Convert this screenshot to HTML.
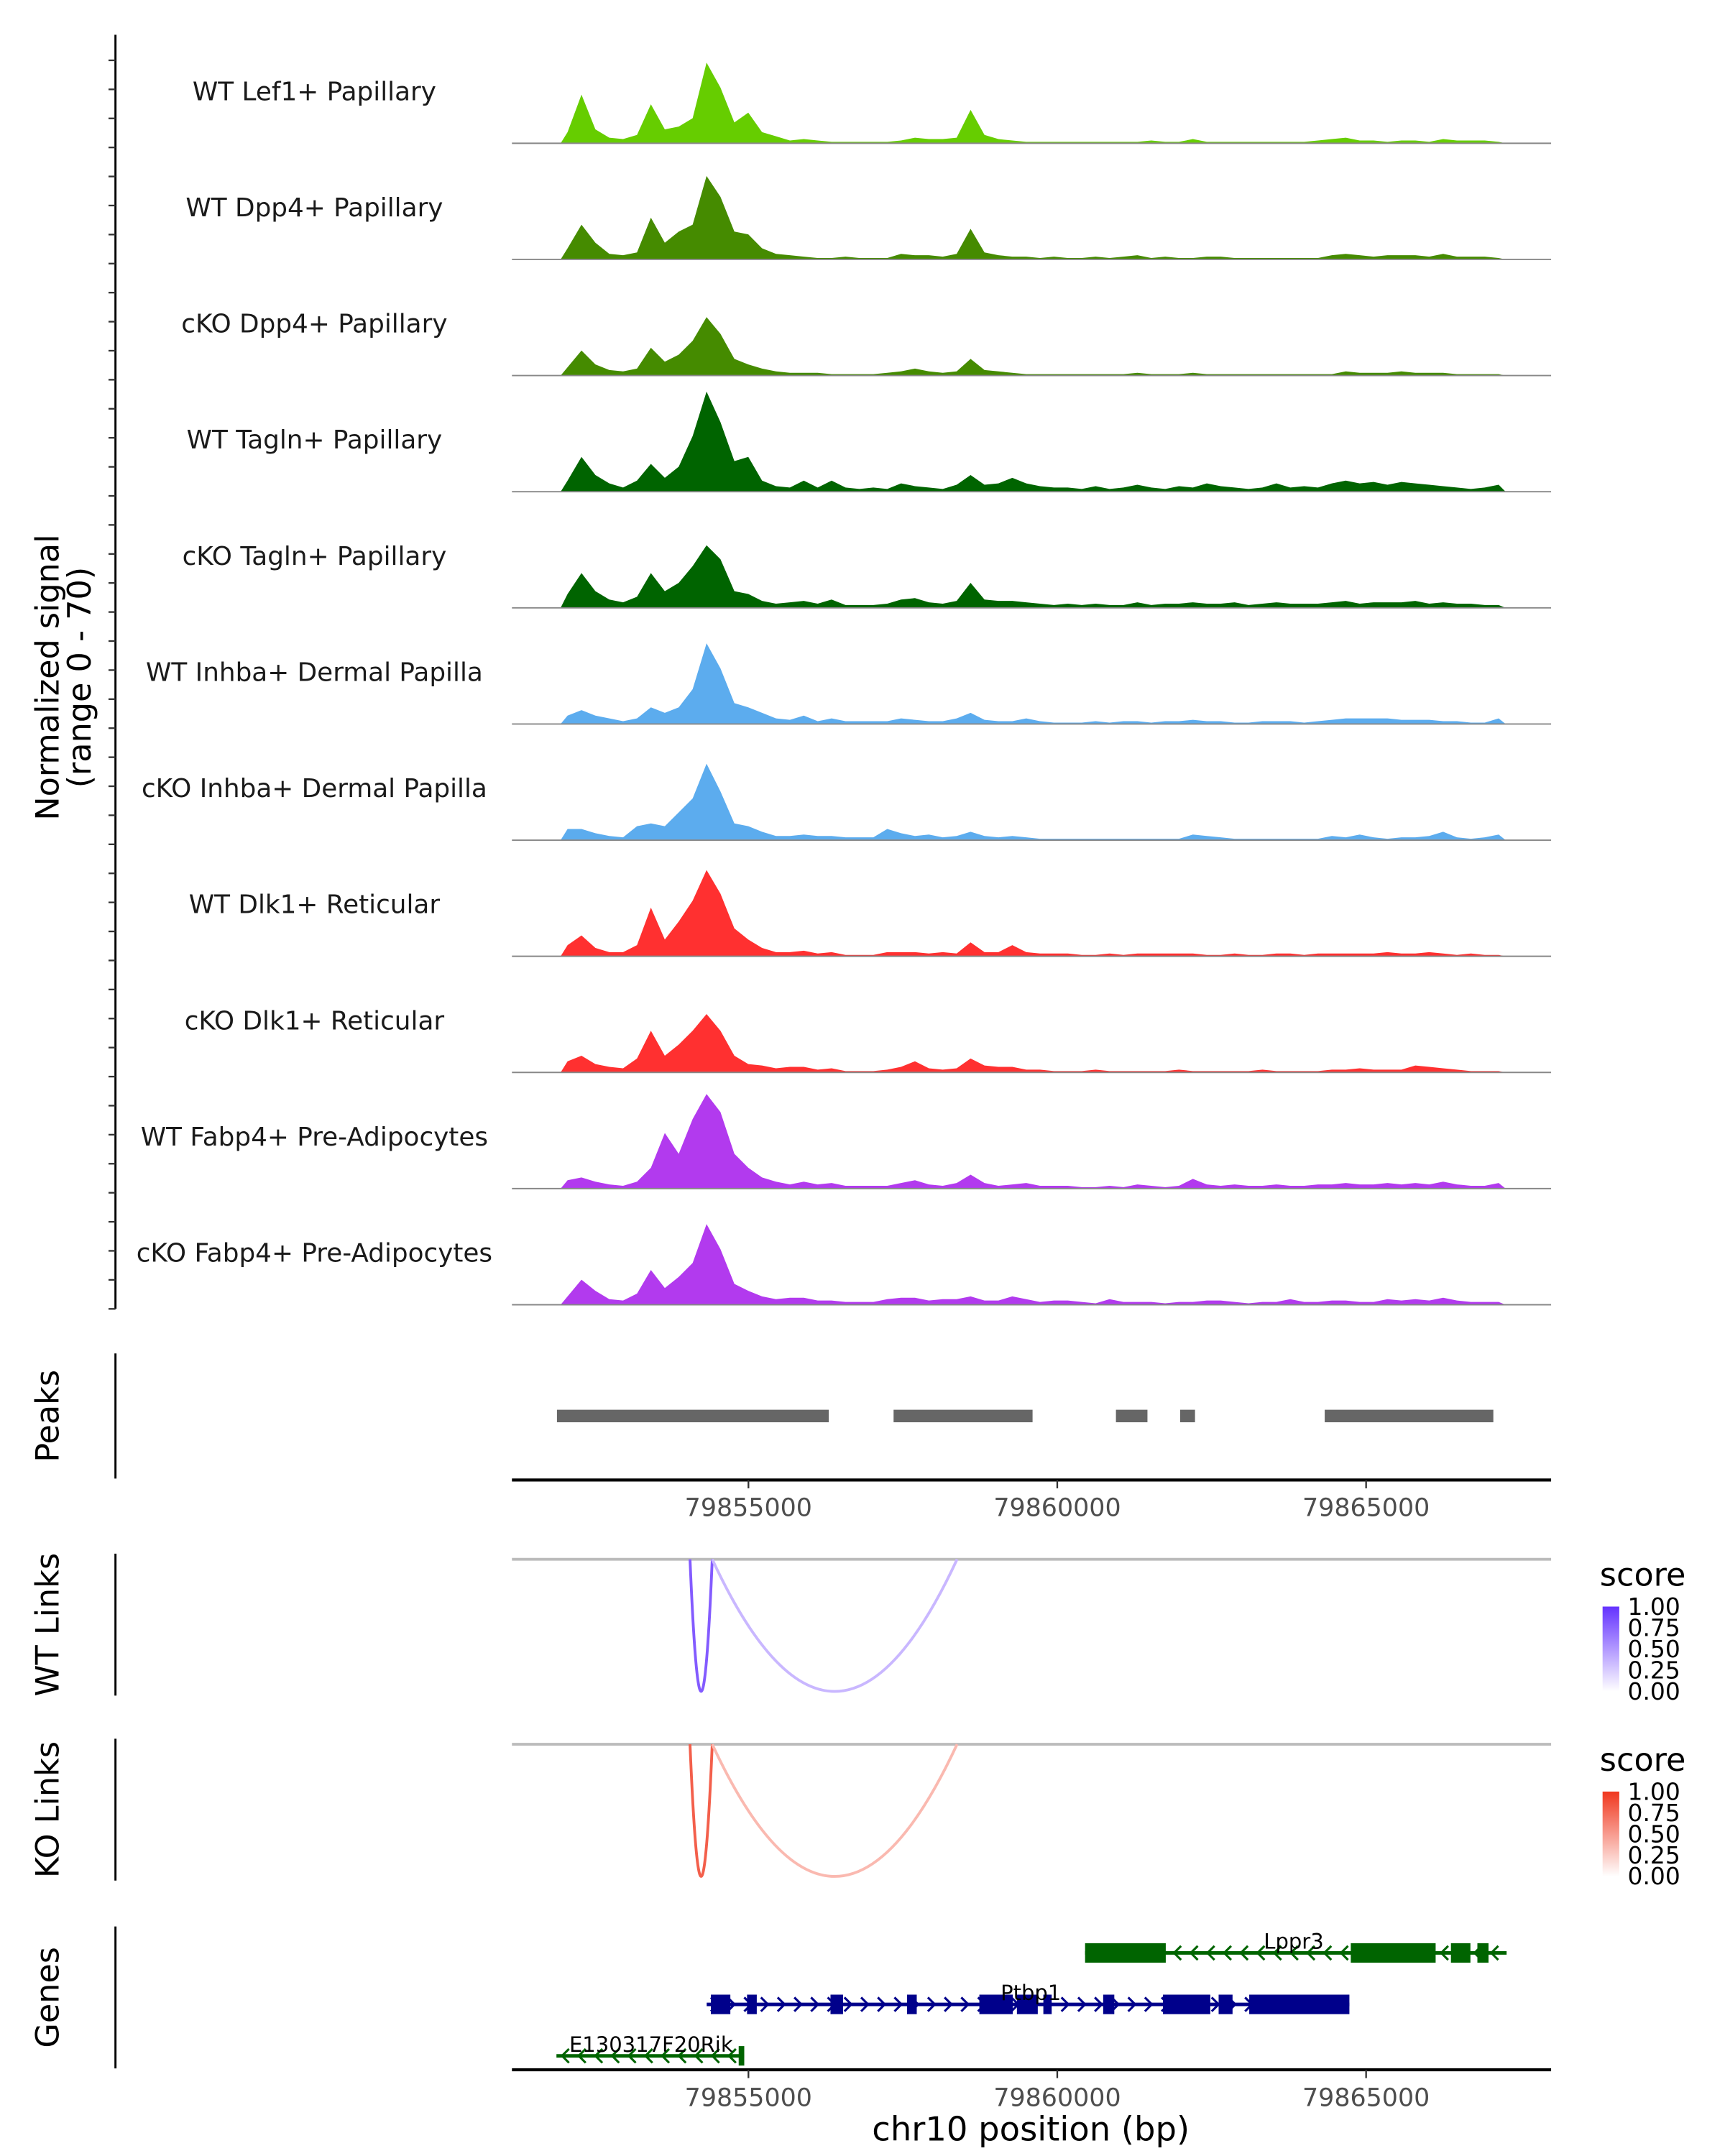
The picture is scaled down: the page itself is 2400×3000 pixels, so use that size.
<!DOCTYPE html>
<html><head><meta charset="utf-8"><style>
html,body{margin:0;padding:0;background:#fff;}
svg{display:block;font-family:"DejaVu Sans","Liberation Sans",sans-serif;}
</style></head><body>
<svg id="chart" width="2400" height="3000" viewBox="0 0 1240 1550" preserveAspectRatio="none" xmlns="http://www.w3.org/2000/svg">
<g id="tracks"></g>
<g id="peaks"></g>
<g id="links"></g>
<g id="genes"></g>
</svg>
<script>
const trackNames = ["WT Lef1+ Papillary","WT Dpp4+ Papillary","cKO Dpp4+ Papillary","WT Tagln+ Papillary","cKO Tagln+ Papillary","WT Inhba+ Dermal Papilla","cKO Inhba+ Dermal Papilla","WT Dlk1+ Reticular","cKO Dlk1+ Reticular","WT Fabp4+ Pre-Adipocytes","cKO Fabp4+ Pre-Adipocytes"];
const trackColors = ["#66CD00","#458B00","#458B00","#006400","#006400","#5CACEE","#5CACEE","#FF3030","#FF3030","#B23AEE","#B23AEE"];
const binStartBp = 79851959;
const binSizeBp = 225;
const sigLef1WT = [8,35,10,4,3,6,28,10,12,18,58,40,15,22,8,5,2,3,2,1,1,1,1,1,2,4,3,3,4,24,6,3,2,1,1,1,1,1,1,1,1,1,2,1,1,3,1,1,1,1,1,1,1,1,2,3,4,2,2,1,2,2,1,3,2,2,2,1];
const sigDpp4WT = [8,25,12,4,3,5,30,12,20,25,60,45,20,18,8,4,3,2,1,1,2,1,1,1,4,3,3,2,4,22,5,3,2,2,1,2,1,1,2,1,2,3,1,2,1,1,2,2,1,1,1,1,1,1,1,3,4,3,2,3,3,3,2,4,2,2,2,1];
const sigDpp4KO = [6,18,8,4,3,5,20,10,15,25,42,30,12,8,5,3,2,2,2,1,1,1,1,2,3,5,3,2,3,12,4,3,2,1,1,1,1,1,1,1,1,2,1,1,1,2,1,1,1,1,1,1,1,1,1,1,3,2,2,2,3,2,2,2,1,1,1,1];
const sigTaglnWT = [8,25,12,6,3,8,20,10,18,40,72,50,22,25,8,4,3,8,3,8,3,2,3,2,6,4,3,2,5,12,5,6,10,6,4,3,3,2,4,2,3,5,3,2,4,3,6,4,3,2,3,6,3,4,3,6,8,6,7,5,7,6,5,4,3,2,3,5];
const sigTaglnKO = [10,25,12,6,4,8,25,12,18,30,45,35,12,10,5,3,4,5,3,6,2,2,2,3,6,7,4,3,5,18,6,5,5,4,3,2,3,2,3,2,2,4,2,3,3,4,3,3,4,2,3,4,3,3,3,4,5,3,4,4,4,5,3,4,3,3,2,2];
const sigInhbaWT = [6,10,6,4,2,4,12,8,12,25,58,40,15,12,8,4,3,6,2,4,2,2,2,2,4,3,2,2,4,8,3,2,2,4,2,1,1,1,2,1,2,2,1,2,2,3,2,2,1,1,2,2,2,1,2,3,4,4,4,4,3,3,3,2,2,1,1,4];
const sigInhbaKO = [8,8,5,3,2,10,12,10,20,30,55,35,12,10,6,3,3,4,3,3,2,2,2,8,5,3,4,2,3,6,3,2,3,2,1,1,1,1,1,1,1,1,1,1,1,4,3,2,1,1,1,1,1,1,1,3,2,4,2,1,2,2,3,6,2,1,2,4];
const sigDlk1WT = [8,15,6,3,3,8,35,12,25,40,62,45,20,12,6,3,3,4,2,3,1,1,1,3,3,3,2,3,2,10,3,3,8,3,2,2,2,1,1,2,1,2,2,2,2,2,1,1,2,1,1,2,2,1,2,2,2,2,2,3,2,2,3,2,1,2,1,1];
const sigDlk1KO = [8,12,6,4,3,10,30,12,20,30,42,30,12,6,5,3,4,4,2,3,1,1,1,2,4,8,3,2,3,10,5,4,4,2,2,1,1,1,2,1,1,1,1,1,2,1,1,1,1,1,2,1,1,1,1,2,2,3,2,2,2,5,4,3,2,1,1,1];
const sigFabp4WT = [6,8,5,3,2,5,15,40,25,50,68,55,25,15,8,5,3,5,3,4,2,2,2,2,4,6,3,2,4,10,4,2,3,4,2,2,2,1,1,2,1,3,2,1,2,7,3,2,3,2,2,3,2,2,3,3,4,3,3,4,3,4,3,5,3,2,2,4];
const sigFabp4KO = [6,18,10,4,3,8,25,12,20,30,58,40,15,10,6,4,5,5,3,3,2,2,2,4,5,5,3,4,4,6,3,3,6,4,2,3,3,2,1,4,2,2,2,1,2,2,3,3,2,1,2,2,4,2,2,3,3,2,2,4,3,4,3,5,3,2,2,2];
const trackSignals = [sigLef1WT,sigDpp4WT,sigDpp4KO,sigTaglnWT,sigTaglnKO,sigInhbaWT,sigInhbaKO,sigDlk1WT,sigDlk1KO,sigFabp4WT,sigFabp4KO];
const xTickValues = [79855000,79860000,79865000];
const xTickLabels = ["79855000","79860000","79865000"];
const peakStarts = [79851900,79857350,79860950,79861990,79864330];
const peakEnds = [79856300,79859600,79861460,79862230,79867060];
const linkStarts = [79854054,79854414];
const linkEnds = [79854414,79858378];
const wtLinkScores = [0.8,0.35];
const koLinkScores = [0.8,0.35];
const legendTicks = ["1.00","0.75","0.50","0.25","0.00"];

const NS="http://www.w3.org/2000/svg";
const X0=368, X1=1115, BP0=79851171, PXBP=0.0444;
function xs(bp){return X0+(bp-BP0)*PXBP;}
function mk(tag,attrs,parent){const e=document.createElementNS(NS,tag);for(const k in attrs)e.setAttribute(k,attrs[k]);parent.appendChild(e);return e;}
function txt(s,attrs,parent){const e=mk('text',attrs,parent);e.textContent=s;return e;}

const gT=document.getElementById('tracks');
const trackH=83.5, firstBase=103;
const ys=v=>v*70/70;
let ax=mk('line',{x1:83,y1:25,x2:83,y2:941,stroke:'#000','stroke-width':1.5},gT);


for(let y=941;y>=30;y-=trackH/4){
  let t=mk('line',{x1:78,y1:y,x2:83,y2:y,stroke:'#333','stroke-width':1.2},gT);
  
  
}
let yt=txt('Normalized signal',{x:0,y:0,'font-size':23,'text-anchor':'middle',transform:'translate(42,487) rotate(-90)',fill:'#000'},gT);


let yt2=txt('(range 0 - 70)',{x:0,y:0,'font-size':23,'text-anchor':'middle',transform:'translate(65,487) rotate(-90)',fill:'#000'},gT);


trackSignals.forEach((sig,k)=>{
  const base=firstBase+k*trackH;
  const g=mk('g',{},gT);
  
  
  let d='M'+xs(binStartBp).toFixed(1)+','+base;
  sig.forEach((v,i)=>{d+=' L'+xs(binStartBp+binSizeBp*(i+0.5)).toFixed(1)+','+(base-ys(v)).toFixed(1);});
  d+=' L'+xs(binStartBp+binSizeBp*sig.length).toFixed(1)+','+base+' Z';
  let p=mk('path',{d:d,fill:trackColors[k]},g);
  
  
  let bl=mk('line',{x1:X0,y1:base,x2:X1,y2:base,stroke:'#888','stroke-width':1},g);
  
  
  let lb=txt(trackNames[k],{x:226,y:base-31,'font-size':18.5,'text-anchor':'middle',fill:'#1a1a1a'},g);
  
  
});

function xAxis(y,parent,name){
  let l=mk('line',{x1:X0,y1:y,x2:X1,y2:y,stroke:'#000','stroke-width':2.2},parent);
  
  
  xTickValues.forEach((v,i)=>{
    let t=mk('line',{x1:xs(v),y1:y,x2:xs(v),y2:y+6,stroke:'#333','stroke-width':1.2},parent);
    
    
    let lt=txt(xTickLabels[i],{x:xs(v),y:y+26,'font-size':18,'text-anchor':'middle',fill:'#4d4d4d'},parent);
    
    
  });
}
function sideAxis(y1,y2,label,parent){
  let l=mk('line',{x1:83,y1:y1,x2:83,y2:y2,stroke:'#000','stroke-width':1.5},parent);
  
  
  let t=txt(label,{x:0,y:0,'font-size':23,'text-anchor':'middle',transform:'translate(42,'+((y1+y2)/2)+') rotate(-90)',fill:'#000'},parent);
  
  
}

const gP=document.getElementById('peaks');
sideAxis(973,1063,'Peaks',gP);
peakStarts.forEach((s,i)=>{
  let r=mk('rect',{x:xs(s),y:1013.5,width:xs(peakEnds[i])-xs(s),height:9,fill:'#666'},gP);
  
  
});
xAxis(1064,gP,'peaks-x-axis');

const gL=document.getElementById('links');
function linksPanel(top,label,scores,hi,gradId){
  sideAxis(top-4,top+98,label,gL);
  let bl=mk('line',{x1:X0,y1:top,x2:X1,y2:top,stroke:'#bbb','stroke-width':2},gL);
  
  
  const depth=95;
  linkStarts.forEach((s,i)=>{
    const a=xs(s),b=xs(linkEnds[i]);
    const sc=scores[i];
    const col='rgb('+Math.round(255+(hi[0]-255)*sc)+','+Math.round(255+(hi[1]-255)*sc)+','+Math.round(255+(hi[2]-255)*sc)+')';
    const c=top+depth*2;
    let p=mk('path',{d:'M'+a+','+top+' Q'+((a+b)/2)+','+c+' '+b+','+top,fill:'none',stroke:col,'stroke-width':2},gL);
    
    
  });
  const defs=mk('defs',{},gL);
  const lg=mk('linearGradient',{id:gradId,x1:0,y1:1,x2:0,y2:0},defs);
  mk('stop',{offset:0,'stop-color':'#fff'},lg);
  mk('stop',{offset:1,'stop-color':'rgb('+hi.join(',')+')'},lg);
  let st=txt('score',{x:1150,y:top+19,'font-size':23,fill:'#000'},gL);
  
  
  let cb=mk('rect',{x:1152,y:top+34,width:12,height:61,fill:'url(#'+gradId+')'},gL);
  
  
  legendTicks.forEach((t,i)=>{
    let e=txt(t,{x:1170,y:top+40+i*15.2,'font-size':17,fill:'#000'},gL);
    
    
  });
}
linksPanel(1121,'WT Links',wtLinkScores,[100,50,255],'gwt');
linksPanel(1254,'KO Links',koLinkScores,[240,55,30],'gko');

const gG=document.getElementById('genes');
sideAxis(1385,1487,'Genes',gG);
const geneNames=["Lppr3","Ptbp1","E130317F20Rik"];
const geneStarts=[79851171+(780-368)/PXBP,79851171+(508-368)/PXBP,79851171+(400-368)/PXBP];
const geneEnds=[79851171+(1083-368)/PXBP,79851171+(970-368)/PXBP,79851171+(535-368)/PXBP];
const geneStrand=[-1,1,-1];
const geneRowY=[1404,1441,1478];
const geneColors=["#006400","#00008B","#006400"];
const geneLabelX=[930,741,468];
const exonsLppr3=[[780,838],[971,1032],[1043,1057],[1062,1070]];
const exonsPtbp1=[[511,525],[537,544],[597,606],[652,659],[704,728],[731,746],[750,756],[793,801],[836,870],[876,886],[898,970]];
const exonsE130=[[531,535]];
const geneExons=[exonsLppr3,exonsPtbp1,exonsE130];
geneNames.forEach((n,i)=>{
  const g=mk('g',{},gG);
  
  
  const y=geneRowY[i],a=xs(geneStarts[i]),b=xs(geneEnds[i]),c=geneColors[i];
  mk('line',{x1:a,y1:y,x2:b,y2:y,stroke:c,'stroke-width':2.5},g);
  for(let x=a+6;x<b-3;x+=12){
    const d=geneStrand[i]>0?('M'+(x-3)+','+(y-5)+' L'+(x+2)+','+y+' L'+(x-3)+','+(y+5)):('M'+(x+3)+','+(y-5)+' L'+(x-2)+','+y+' L'+(x+3)+','+(y+5));
    mk('path',{d:d,fill:'none',stroke:c,'stroke-width':1.6},g);
  }
  geneExons[i].forEach(e=>{
    let r=mk('rect',{x:e[0],y:y-7,width:e[1]-e[0],height:14,fill:c},g);
    
    
  });
  let t=txt(n,{x:geneLabelX[i],y:y-3,'font-size':15,'text-anchor':'middle',fill:'#000'},g);
  
  
});
xAxis(1488,gG,'genes-x-axis');
let xt=txt('chr10 position (bp)',{x:741,y:1539,'font-size':24,'text-anchor':'middle',fill:'#000'},gG);


</script>
</body></html>
